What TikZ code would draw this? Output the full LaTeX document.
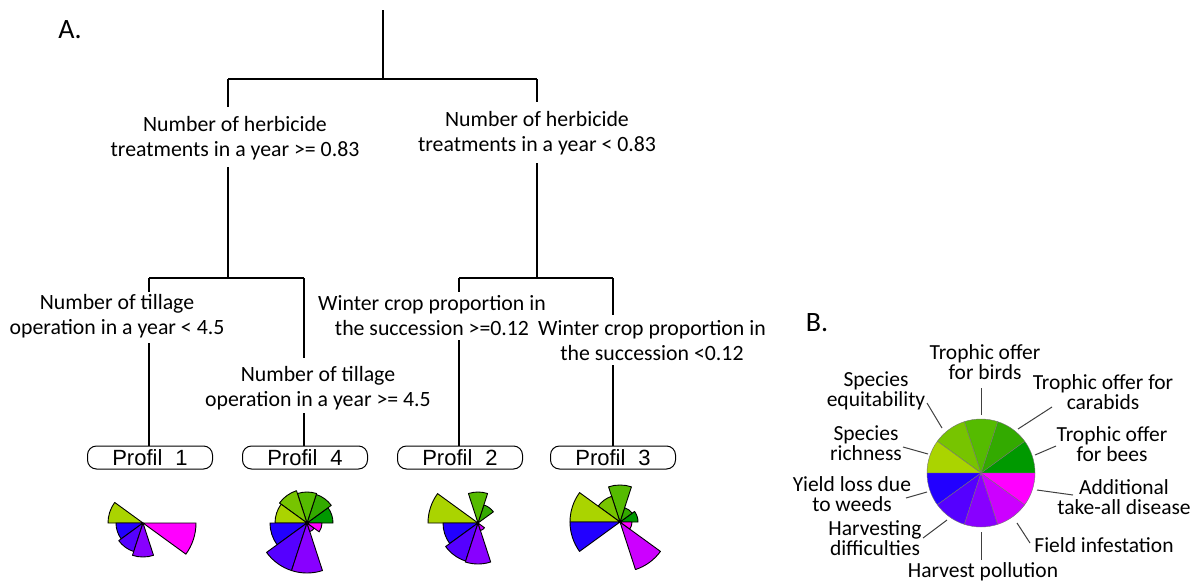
\documentclass[tikz,border=0pt]{standalone}
\usepackage{fontspec}
\setmainfont{Carlito}
\newfontfamily\arialfont{Liberation Sans}
\definecolor{cA}{RGB}{0,153,0}
\definecolor{cB}{RGB}{51,170,0}
\definecolor{cC}{RGB}{85,187,0}
\definecolor{cD}{RGB}{119,196,0}
\definecolor{cE}{RGB}{170,212,0}
\definecolor{cF}{RGB}{34,0,255}
\definecolor{cG}{RGB}{85,0,255}
\definecolor{cH}{RGB}{136,0,255}
\definecolor{cI}{RGB}{204,0,255}
\definecolor{cJ}{RGB}{255,0,255}
\newcommand{\starplot}[2]{%
  \foreach \r/\c [count=\k] in {#2} {%
    \ifdim \r pt > 0pt
      \filldraw[fill=\c, draw=black, line width=0.9pt, line join=round]
        (#1) -- ++({(\k-1)*36}:\r) arc[start angle={(\k-1)*36}, end angle={\k*36}, radius=\r] -- cycle;
    \fi
  }}
\begin{document}
\begin{tikzpicture}[x=1pt,y=1pt,
  cond/.style={align=center, font=\fontsize{21.8}{25}\selectfont, inner sep=0pt},
  lab/.style={align=center, font=\fontsize{21.5}{19.5}\selectfont, inner sep=0pt},
  tree/.style={line width=1.3pt, black},
  leader/.style={line width=1pt, black!75},
  profbox/.style={draw, line width=1pt, rounded corners=9pt, minimum width=125pt, minimum height=23pt, inner sep=0pt, font=\arialfont\fontsize{22}{24}\selectfont},
  panel/.style={font=\fontsize{28}{30}\selectfont, inner sep=0pt}]
\useasboundingbox (0,0) rectangle (1199,-584);
\fill[white] (0,0) rectangle (1199,-584);

% panel labels
\node[panel] (pA) at (70,-30) {A.};
\node[panel] (pB) at (817,-323) {B.};

% tree coordinates
\coordinate (top) at (383,-10);
\coordinate (s0) at (383,-79);
\coordinate (jL) at (228,-79);
\coordinate (jR) at (537,-79);
\coordinate (jL1) at (228,-107);
\coordinate (jL2) at (228,-167);
\coordinate (jR1) at (537,-102);
\coordinate (jR2) at (537,-163);
\coordinate (hL) at (228,-278);
\coordinate (hR) at (537,-278);
\coordinate (hLL) at (149,-278);
\coordinate (hLR) at (304,-278);
\coordinate (hRL) at (459,-278);
\coordinate (hRR) at (613,-278);
\coordinate (gLL1) at (149,-292);
\coordinate (gLL2) at (149,-343);
\coordinate (gLR1) at (304,-358);
\coordinate (gLR2) at (304,-413);
\coordinate (gRL1) at (459,-292);
\coordinate (gRL2) at (459,-340);
\coordinate (gRR1) at (613,-315);
\coordinate (gRR2) at (613,-365);

% condition texts
\node[cond] (nL) at (235,-138) {Number of herbicide\\treatments in a year >= 0.83};
\node[cond] (nR) at (537,-133) {Number of herbicide\\treatments in a year < 0.83};
\node[cond] (nLL) at (117,-316) {Number of tillage\\operation in a year < 4.5};
\node[cond] (nLR) at (318,-388) {Number of tillage\\operation in a year >= 4.5};
\node[cond] (nRL) at (432,-316) {Winter crop proportion in\\the succession >=0.12};
\node[cond] (nRR) at (652,-341) {Winter crop proportion in\\the succession <0.12};

% profile boxes
\node[profbox] (p1) at (150,-457.5) {Profil\hspace{13pt}1};
\node[profbox] (p4) at (305,-457.5) {Profil\hspace{13pt}4};
\node[profbox] (p2) at (460,-457.5) {Profil\hspace{13pt}2};
\node[profbox] (p3) at (613,-457.5) {Profil\hspace{13pt}3};

% tree lines
\draw[tree] (top) -- (s0);
\draw[tree] (jL) -- (jR);
\draw[tree] (jL) -- (jL1);
\draw[tree] (jL2) -- (hL);
\draw[tree] (jR) -- (jR1);
\draw[tree] (jR2) -- (hR);
\draw[tree] (hLL) -- (hLR);
\draw[tree] (hRL) -- (hRR);
\draw[tree] (hLL) -- (gLL1);
\draw[tree] (gLL2) -- (gLL2 |- p1.north);
\draw[tree] (hLR) -- (gLR1);
\draw[tree] (gLR2) -- (gLR2 |- p4.north);
\draw[tree] (hRL) -- (gRL1);
\draw[tree] (gRL2) -- (gRL2 |- p2.north);
\draw[tree] (hRR) -- (gRR1);
\draw[tree] (gRR2) -- (gRR2 |- p3.north);

% star plots
\coordinate (st1) at (143,-523);
\coordinate (st4) at (307,-523);
\coordinate (st2) at (478,-523);
\coordinate (st3) at (620,-522);
\starplot{st1}{0/cA,0/cB,0/cC,0/cD,35/cE,27/cF,30/cG,34/cH,0/cI,53/cJ}
\starplot{st4}{26/cA,30/cB,31/cC,34/cD,32/cE,37/cF,50/cG,50/cH,9/cI,15/cJ}
\starplot{st2}{0/cA,19/cB,31/cC,0/cD,50/cE,35/cF,40/cG,41/cH,8/cI,0/cJ}
\starplot{st3}{18/cA,15/cB,37/cC,27/cD,50/cE,50/cF,0/cG,0/cH,50/cI,12/cJ}

% pie (panel B)
\coordinate (pie) at (981,-473);
\foreach \c [count=\k] in {cA,cB,cC,cD,cE,cF,cG,cH,cI,cJ}
  \filldraw[fill=\c, draw=black!55, line width=0.4pt]
    (pie) -- ++({(\k-1)*36}:54) arc[start angle={(\k-1)*36}, end angle={\k*36}, radius=54] -- cycle;

% pie labels
\node[lab] (lBirds) at (985,-362) {Trophic offer\\for birds};
\node[lab] (lCar) at (1103,-392) {Trophic offer for\\carabids};
\node[lab] (lBees) at (1112,-444) {Trophic offer\\for bees};
\node[lab] (lTake) at (1124,-497) {Additional\\take-all disease};
\node[lab] (lField) at (1104,-545) {Field infestation};
\node[lab] (lPoll) at (983,-572) {Harvest pollution};
\node[lab] (lHarv) at (875,-538) {Harvesting\\difficulties};
\node[lab] (lYield) at (852,-494) {Yield loss due\\to weeds};
\node[lab] (lRich) at (866,-443) {Species\\richness};
\node[lab] (lEq) at (876,-391) {Species\\equitability};

% leaders
\coordinate (eBirds1) at (981,-415); \coordinate (eBirds2) at (981,-388);
\coordinate (eCar1) at (1018,-429); \coordinate (eCar2) at (1052,-407);
\coordinate (eBees1) at (1035,-455); \coordinate (eBees2) at (1056,-446);
\coordinate (eTake1) at (1037,-490); \coordinate (eTake2) at (1073,-495);
\coordinate (eField1) at (1017,-523); \coordinate (eField2) at (1030,-543);
\coordinate (ePoll1) at (981,-532); \coordinate (ePoll2) at (981,-560);
\coordinate (eHarv1) at (947,-520); \coordinate (eHarv2) at (923,-538);
\coordinate (eYield1) at (927,-492); \coordinate (eYield2) at (906,-498);
\coordinate (eRich1) at (928,-454); \coordinate (eRich2) at (903,-447);
\coordinate (eEq1) at (942,-428); \coordinate (eEq2) at (927,-403);
\foreach \n in {Birds,Car,Bees,Take,Field,Poll,Harv,Yield,Rich,Eq}
  \draw[leader] (e\n1) -- (e\n2);
\end{tikzpicture}
\end{document}
